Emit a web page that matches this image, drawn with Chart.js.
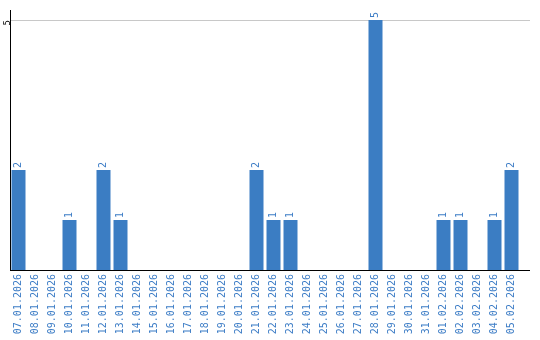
<!DOCTYPE html>
<html>
<head>
<meta charset="utf-8">
<script src="https://cdn.jsdelivr.net/npm/chart.js@4/dist/chart.umd.min.js"></script>
<style>
html,body{margin:0;padding:0;background:#fff;}
#wrap{width:540px;height:340px;position:relative;}
</style>
</head>
<body>
<div id="wrap"><canvas id="c" width="540" height="340"></canvas></div>
<script>
const categories = [
  "07.01.2026","08.01.2026","09.01.2026","10.01.2026","11.01.2026","12.01.2026",
  "13.01.2026","14.01.2026","15.01.2026","16.01.2026","17.01.2026","18.01.2026",
  "19.01.2026","20.01.2026","21.01.2026","22.01.2026","23.01.2026","24.01.2026",
  "25.01.2026","26.01.2026","27.01.2026","28.01.2026","29.01.2026","30.01.2026",
  "31.01.2026","01.02.2026","02.02.2026","03.02.2026","04.02.2026","05.02.2026"
];
const counts = [
  2,0,0,1,0,2,
  1,0,0,0,0,0,
  0,0,2,1,1,0,
  0,0,0,5,0,0,
  0,1,1,0,1,2
];
const yTickValues = [5];

const BAR = '#3b7dc3';
const LABEL = '#3d7dc6';

const valueLabels = {
  id: 'valueLabels',
  afterDatasetsDraw(chart) {
    const ctx = chart.ctx;
    const meta = chart.getDatasetMeta(0);
    ctx.save();
    ctx.fillStyle = LABEL;
    ctx.font = '10px "DejaVu Sans Mono"';
    ctx.textAlign = 'left';
    ctx.textBaseline = 'middle';
    meta.data.forEach((bar, i) => {
      const v = chart.data.datasets[0].data[i];
      if (!v) return;
      ctx.save();
      ctx.translate(bar.x, bar.y - 2);
      ctx.rotate(-Math.PI / 2);
      ctx.fillText(String(v), 0, 0);
      ctx.restore();
    });
    ctx.restore();
  }
};

const extendLines = {
  id: 'extendLines',
  afterDraw(chart) {
    const ctx = chart.ctx;
    const a = chart.chartArea;
    const y = chart.scales.y;
    const endX = 530;
    ctx.save();
    ctx.lineWidth = 1;
    ctx.strokeStyle = '#c8c8c8';
    yTickValues.forEach(v => {
      const py = Math.round(y.getPixelForValue(v)) + 0.5;
      ctx.beginPath();
      ctx.moveTo(a.right, py);
      ctx.lineTo(endX, py);
      ctx.stroke();
    });
    ctx.strokeStyle = '#000';
    const by = Math.round(a.bottom) + 0.5;
    ctx.beginPath();
    ctx.moveTo(a.right - 1, by);
    ctx.lineTo(endX, by);
    ctx.stroke();
    ctx.restore();
  }
};

new Chart(document.getElementById('c'), {
  type: 'bar',
  data: {
    labels: categories,
    datasets: [{
      data: counts,
      backgroundColor: BAR,
      borderWidth: 0,
      categoryPercentage: 1,
      barPercentage: 14/17
    }]
  },
  options: {
    responsive: false,
    animation: false,
    layout: { padding: { top: 10, right: 20, left: 0, bottom: 0 } },
    plugins: { legend: { display: false }, tooltip: { enabled: false } },
    scales: {
      x: {
        grid: { display: false, drawTicks: false },
        border: { color: '#000', width: 1 },
        ticks: {
          autoSkip: false,
          minRotation: 90,
          maxRotation: 90,
          padding: 4,
          color: LABEL,
          font: { family: '"DejaVu Sans Mono"', size: 10 }
        },
        afterFit(s) { s.height = 70; }
      },
      y: {
        min: 0,
        max: 5.2,
        afterBuildTicks(s) { s.ticks = yTickValues.map(v => ({ value: v })); },
        grid: { color: '#c8c8c8', drawTicks: false },
        border: { color: '#000', width: 1 },
        ticks: {
          minRotation: 90,
          maxRotation: 90,
          padding: 2,
          color: '#000',
          font: { family: '"DejaVu Sans Mono"', size: 9 }
        },
        afterFit(s) { s.width = 10; }
      }
    }
  },
  plugins: [valueLabels, extendLines]
});
</script>
</body>
</html>
